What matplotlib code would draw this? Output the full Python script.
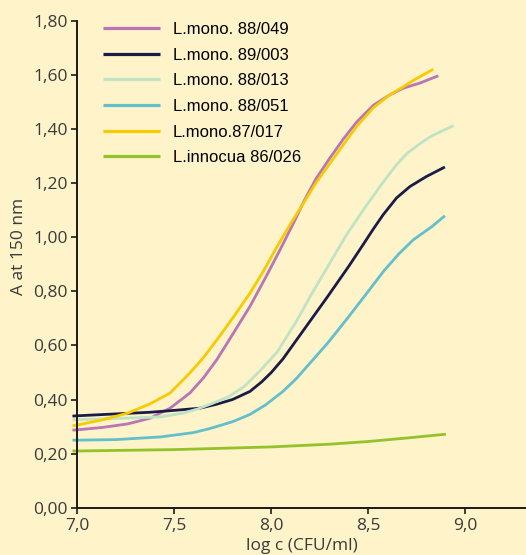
import numpy as np
import matplotlib
matplotlib.use('Agg')
from matplotlib import pyplot as plt

# values
labels = ['L.mono. 88/049', 'L.mono. 89/003', 'L.mono. 88/013',
          'L.mono. 88/051', 'L.mono.87/017', 'L.innocua 86/026']
colors = ['#b975b6', '#1b1b48', '#bfe3c3', '#63bfcc', '#f7cb00', '#94c22b']

x_049 = [6.975, 7.0, 7.13, 7.26, 7.375, 7.478, 7.58, 7.65, 7.719, 7.80, 7.89, 7.97, 8.045, 8.12, 8.17, 8.23, 8.30, 8.371, 8.44, 8.526, 8.612, 8.68, 8.766, 8.861]
y_049 = [0.287, 0.288, 0.297, 0.31, 0.331, 0.368, 0.424, 0.48, 0.547, 0.64, 0.744, 0.85, 0.953, 1.06, 1.135, 1.215, 1.29, 1.362, 1.425, 1.487, 1.526, 1.55, 1.569, 1.596]

x_003 = [6.975, 7.0, 7.2, 7.375, 7.5, 7.632, 7.72, 7.80, 7.89, 7.95, 8.0, 8.06, 8.12, 8.2, 8.29, 8.40, 8.474, 8.526, 8.577, 8.646, 8.715, 8.80, 8.895]
y_003 = [0.339, 0.34, 0.347, 0.353, 0.36, 0.368, 0.383, 0.40, 0.43, 0.465, 0.50, 0.55, 0.61, 0.69, 0.78, 0.893, 0.973, 1.03, 1.083, 1.145, 1.187, 1.224, 1.259]

x_013 = [6.975, 7.0, 7.2, 7.43, 7.546, 7.62, 7.69, 7.78, 7.86, 7.94, 8.03, 8.13, 8.2, 8.29, 8.389, 8.474, 8.56, 8.646, 8.698, 8.76, 8.818, 8.88, 8.94]
y_013 = [0.325, 0.326, 0.33, 0.336, 0.35, 0.365, 0.384, 0.41, 0.448, 0.505, 0.575, 0.69, 0.78, 0.89, 1.01, 1.10, 1.187, 1.268, 1.308, 1.342, 1.37, 1.392, 1.412]

x_051 = [6.975, 7.0, 7.2, 7.43, 7.6, 7.684, 7.80, 7.89, 7.97, 8.06, 8.13, 8.2, 8.29, 8.40, 8.5, 8.58, 8.66, 8.732, 8.83, 8.895]
y_051 = [0.25, 0.25, 0.252, 0.262, 0.278, 0.293, 0.318, 0.345, 0.38, 0.43, 0.478, 0.535, 0.608, 0.707, 0.80, 0.875, 0.94, 0.99, 1.04, 1.079]

x_017 = [6.975, 7.0, 7.13, 7.26, 7.375, 7.478, 7.58, 7.65, 7.719, 7.80, 7.89, 7.96, 8.02, 8.10, 8.17, 8.23, 8.30, 8.371, 8.44, 8.526, 8.612, 8.68, 8.732, 8.835]
y_017 = [0.303, 0.306, 0.325, 0.35, 0.384, 0.424, 0.498, 0.555, 0.62, 0.70, 0.793, 0.875, 0.953, 1.05, 1.13, 1.20, 1.27, 1.341, 1.409, 1.478, 1.526, 1.555, 1.579, 1.62]

x_026 = [6.975, 7.0, 7.5, 8.0, 8.3, 8.5, 8.7, 8.9]
y_026 = [0.21, 0.21, 0.215, 0.225, 0.235, 0.245, 0.258, 0.272]

xs = [x_049, x_003, x_013, x_051, x_017, x_026]
ys = [y_049, y_003, y_013, y_051, y_017, y_026]

xticks = [7.0, 7.5, 8.0, 8.5, 9.0]
yticks = [0.0, 0.2, 0.4, 0.6, 0.8, 1.0, 1.2, 1.4, 1.6, 1.8]

bg = '#fef3c9'
fig = plt.figure(figsize=(5.26, 5.55), dpi=100, facecolor=bg)
ax = fig.add_axes([0.147, 0.085, 0.853, 0.878])
ax.set_facecolor(bg)

for xv, yv, c, lab in zip(xs, ys, colors, labels):
    ax.plot(xv, yv, color=c, lw=2.0, label=lab, solid_capstyle='butt', clip_on=False)

ax.set_xlim(7.0, 9.313)
ax.set_ylim(0, 1.8)
ax.set_xticks(xticks)
ax.set_xticklabels([('%.1f' % t).replace('.', ',') for t in xticks])
ax.set_yticks(yticks)
ax.set_yticklabels([('%.2f' % t).replace('.', ',') for t in yticks])

for s in ['top', 'right']:
    ax.spines[s].set_visible(False)
for s in ['left', 'bottom']:
    ax.spines[s].set_linewidth(1.4)
    ax.spines[s].set_color('#1a1a1a')
    ax.spines[s].set_zorder(5)

ax.tick_params(length=4, width=1.2, color='#1a1a1a', labelsize=12.5,
               labelcolor='#3a3a3a', pad=3)
for t in ax.get_xticklabels() + ax.get_yticklabels():
    t.set_family('Open Sans')

ax.set_ylabel('A at 150 nm', family='Open Sans', fontsize=12.5, color='#3a3a3a')
ax.yaxis.set_label_coords(-0.113, 0.536)
ax.set_xlabel('log c (CFU/ml)', family='Open Sans', fontsize=12.5, color='#3a3a3a', labelpad=3)

leg = ax.legend(loc='upper left', bbox_to_anchor=(0.058, 0.997), frameon=False,
                borderaxespad=0, borderpad=0,
                handlelength=3.4, handletextpad=0.78, labelspacing=0.64,
                prop={'family': 'Liberation Sans', 'size': 12})
for line in leg.get_lines():
    line.set_linewidth(2.3)

fig.savefig('out.png', dpi=100, facecolor=bg)
